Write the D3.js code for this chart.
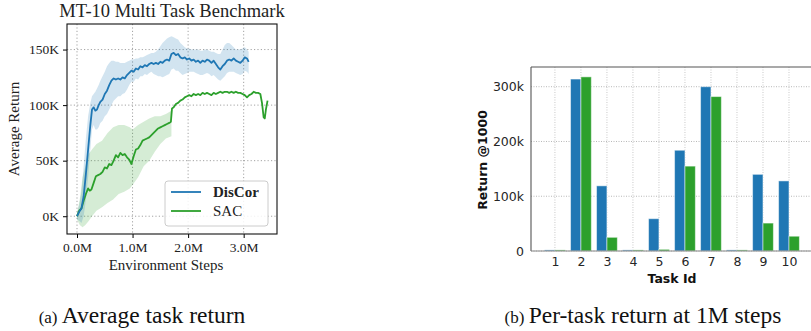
<!DOCTYPE html>
<html>
<head>
<meta charset="utf-8">
<script src="https://cdn.jsdelivr.net/npm/d3@7"></script>
<style>
  body { margin: 0; background: #fff; }
  svg { display: block; }
</style>
</head>
<body>
<svg id="fig" width="811" height="331"></svg>
<script>
// ---- (a) average return curves, values in K, steps in M ----
const discorSteps = [0.00, 0.04, 0.08, 0.12, 0.16, 0.20, 0.24, 0.27, 0.30, 0.33, 0.36, 0.39, 0.42, 0.46, 0.50, 0.54, 0.58, 0.62, 0.66, 0.70,
  0.74, 0.78, 0.82, 0.86, 0.90, 0.94, 0.98, 1.02, 1.06, 1.10, 1.14, 1.18, 1.22, 1.26, 1.30, 1.34, 1.38, 1.42, 1.46, 1.50,
  1.54, 1.58, 1.62, 1.66, 1.70, 1.74, 1.78, 1.82, 1.86, 1.90, 1.94, 1.98, 2.02, 2.06, 2.10, 2.14, 2.18, 2.22, 2.26, 2.30,
  2.34, 2.38, 2.42, 2.46, 2.50, 2.54, 2.58, 2.62, 2.66, 2.70, 2.74, 2.78, 2.82, 2.86, 2.90, 2.94, 2.98, 3.02, 3.06, 3.09];
const discorMean = [0, 4, 7, 18, 38, 60, 82, 96, 98, 95, 96, 100, 103, 105, 110, 113, 118, 122, 124, 123,
  124, 123, 125, 124, 127, 129, 131, 130, 133, 132, 135, 134, 136, 135, 137, 138, 137, 138, 137, 139,
  138, 140, 141, 140, 146, 147, 145, 146, 143, 142, 143, 141, 142, 140, 141, 139, 140, 138, 140, 139,
  141, 140, 138, 140, 137, 134, 132, 135, 137, 140, 141, 140, 142, 140, 139, 138, 140, 143, 142, 139];
const discorLow = [-3, -4, -6, 0, 15, 35, 60, 78, 82, 78, 78, 80, 84, 86, 90, 92, 96, 100, 104, 106,
  108, 108, 110, 111, 114, 118, 121, 121, 124, 123, 126, 126, 128, 127, 129, 130, 128, 127, 126, 126,
  125, 126, 127, 128, 132, 133, 131, 131, 129, 127, 128, 129, 130, 130, 130, 129, 128, 127, 127, 128,
  129, 128, 126, 127, 125, 123, 122, 124, 126, 129, 130, 130, 130, 129, 128, 127, 128, 131, 130, 128];
const discorHigh = [3, 10, 22, 45, 70, 90, 102, 108, 110, 112, 115, 118, 122, 126, 130, 135, 138, 140, 140, 139,
  139, 138, 138, 138, 139, 140, 141, 141, 142, 142, 143, 143, 144, 145, 146, 147, 147, 148, 150, 153,
  156, 158, 160, 161, 162, 161, 160, 159, 156, 154, 152, 151, 151, 150, 150, 150, 150, 149, 149, 150,
  150, 149, 148, 148, 147, 146, 146, 150, 154, 156, 156, 154, 152, 150, 150, 150, 151, 152, 150, 148];

const sacSteps = [0.00, 0.04, 0.08, 0.12, 0.16, 0.20, 0.23, 0.26, 0.30, 0.34, 0.38, 0.42, 0.46, 0.50, 0.54, 0.58, 0.62, 0.66, 0.70, 0.74,
  0.78, 0.82, 0.86, 0.90, 0.94, 0.98, 1.02, 1.06, 1.10, 1.14, 1.18, 1.22, 1.26, 1.30, 1.34, 1.38, 1.42, 1.46, 1.50, 1.54,
  1.58, 1.62, 1.66, 1.69, 1.71, 1.74, 1.78, 1.82, 1.86, 1.90, 1.94, 1.98, 2.02, 2.06, 2.10, 2.14, 2.18, 2.22, 2.26, 2.30,
  2.34, 2.38, 2.42, 2.46, 2.50, 2.54, 2.58, 2.62, 2.66, 2.70, 2.74, 2.78, 2.82, 2.86, 2.90, 2.94, 2.98, 3.02, 3.06, 3.10,
  3.14, 3.18, 3.22, 3.26, 3.30, 3.33, 3.36, 3.38, 3.40, 3.43];
const sacMean = [0, 5, 7, 14, 20, 25, 23, 24, 30, 36, 37, 38, 40, 44, 43, 47, 46, 50, 55, 53,
  57, 55, 56, 53, 51, 47, 54, 60, 61, 64, 68, 69, 70, 71, 73, 75, 77, 79, 80, 81,
  82, 83, 84, 85, 97, 98, 101, 102, 104, 105, 107, 108, 109, 108, 110, 109, 110, 109, 111, 110,
  111, 110, 109, 111, 110, 111, 112, 111, 112, 112, 111, 112, 111, 112, 111, 111, 110, 109, 107, 109,
  110, 112, 111, 111, 110, 102, 89, 88, 96, 104];
const sacBandSteps = [0.00, 0.05, 0.10, 0.15, 0.20, 0.27, 0.35, 0.45, 0.55, 0.65, 0.75, 0.85, 0.95, 1.00, 1.10, 1.20, 1.30, 1.40, 1.50, 1.60, 1.70];
const sacLow = [-3, -8, -10, -8, -5, 0, 5, 8, 12, 15, 20, 22, 25, 28, 35, 45, 50, 58, 65, 70, 72];
const sacHigh = [3, 15, 35, 45, 55, 60, 65, 68, 75, 80, 82, 82, 80, 78, 82, 85, 88, 90, 90, 92, 95];

const stepTicks = [0, 1, 2, 3];
const returnTicks = [0, 50, 100, 150];

// ---- (b) per-task return at 1M steps, values in k ----
const tasks = [1, 2, 3, 4, 5, 6, 7, 8, 9, 10];
const discorTask = [2, 314, 119, 2, 59, 184, 300, 2, 140, 128];
const sacTask = [2, 318, 25, 2, 3, 155, 282, 2, 51, 27];
const taskReturnTicks = [0, 100, 200, 300];

const blue = '#1f77b4', green = '#2ca02c';
const serif = '"Liberation Serif", "DejaVu Serif", serif';
const sans = '"DejaVu Sans", sans-serif';

const svg = d3.select('#fig');

// ===================== panel (a) =====================
const a = { left: 67, right: 277, top: 24, bottom: 234 };
const xA = d3.scaleLinear().domain([-0.18, 3.6]).range([a.left, a.right]);
const yA = d3.scaleLinear().domain([-16, 173]).range([a.bottom, a.top]);

const gA = svg.append('g');

// grid
gA.selectAll('.vgrid').data(stepTicks).join('line')
  .attr('x1', d => xA(d)).attr('x2', d => xA(d))
  .attr('y1', a.top).attr('y2', a.bottom)
  .attr('stroke', '#999').attr('stroke-width', 0.9).attr('stroke-dasharray', '1.2,2.2');
gA.selectAll('.hgrid').data(returnTicks).join('line')
  .attr('x1', a.left).attr('x2', a.right)
  .attr('y1', d => yA(d)).attr('y2', d => yA(d))
  .attr('stroke', '#999').attr('stroke-width', 0.9).attr('stroke-dasharray', '1.2,2.2');

svg.append('clipPath').attr('id', 'clipA').append('rect')
  .attr('x', a.left).attr('y', a.top).attr('width', a.right - a.left).attr('height', a.bottom - a.top);

const plotA = gA.append('g').attr('clip-path', 'url(#clipA)');

const discorBand = d3.area()
  .x((d, i) => xA(discorSteps[i]))
  .y0((d, i) => yA(discorLow[i]))
  .y1((d, i) => yA(discorHigh[i]));
const sacBand = d3.area()
  .x((d, i) => xA(sacBandSteps[i]))
  .y0((d, i) => yA(sacLow[i]))
  .y1((d, i) => yA(sacHigh[i]));

plotA.append('path').datum(sacBandSteps).attr('d', sacBand).attr('fill', green).attr('opacity', 0.2);
plotA.append('path').datum(discorSteps).attr('d', discorBand).attr('fill', blue).attr('opacity', 0.2);

const discorLine = d3.line().x((d, i) => xA(discorSteps[i])).y(d => yA(d));
const sacLine = d3.line().x((d, i) => xA(sacSteps[i])).y(d => yA(d));

plotA.append('path').datum(sacMean).attr('d', sacLine)
  .attr('fill', 'none').attr('stroke', green).attr('stroke-width', 1.8).attr('stroke-linejoin', 'round');
plotA.append('path').datum(discorMean).attr('d', discorLine)
  .attr('fill', 'none').attr('stroke', blue).attr('stroke-width', 1.8).attr('stroke-linejoin', 'round');

// axes
const axA = gA.append('g').attr('transform', `translate(0,${a.bottom})`)
  .call(d3.axisBottom(xA).tickValues(stepTicks).tickSize(4).tickSizeOuter(0).tickFormat(d => d3.format('.1f')(d) + 'M'));
const ayA = gA.append('g').attr('transform', `translate(${a.left},0)`)
  .call(d3.axisLeft(yA).tickValues(returnTicks).tickSize(4).tickSizeOuter(0).tickFormat(d => d + 'K'));
[axA, ayA].forEach(ax => {
  ax.select('.domain').remove();
  ax.selectAll('line').attr('stroke', '#000');
  ax.selectAll('text').attr('fill', '#222').style('font-family', serif).style('font-size', '13.5px');
});
axA.selectAll('text').attr('y', 8).attr('dy', '0.71em');
ayA.selectAll('text').attr('x', -8);

gA.append('rect').attr('x', a.left).attr('y', a.top)
  .attr('width', a.right - a.left).attr('height', a.bottom - a.top)
  .attr('fill', 'none').attr('stroke', '#111').attr('stroke-width', 1.1);

gA.append('text').attr('x', (a.left + a.right) / 2).attr('y', 17)
  .attr('text-anchor', 'middle').style('font-family', serif).style('font-size', '18.5px').attr('fill', '#222')
  .text('MT-10 Multi Task Benchmark');
gA.append('text').attr('x', (a.left + a.right) / 2 - 6).attr('y', 270)
  .attr('text-anchor', 'middle').style('font-family', serif).style('font-size', '15px').attr('fill', '#222')
  .text('Environment Steps');
gA.append('text').attr('transform', `translate(19,${(a.top + a.bottom) / 2}) rotate(-90)`)
  .attr('text-anchor', 'middle').style('font-family', serif).style('font-size', '15px').attr('fill', '#222')
  .text('Average Return');

// legend
const leg = gA.append('g');
leg.append('rect').attr('x', 165).attr('y', 181).attr('width', 103).attr('height', 45)
  .attr('rx', 3).attr('fill', '#fff').attr('fill-opacity', 0.85).attr('stroke', '#ccc');
[{ name: 'DisCor', color: blue, bold: true, y: 192 }, { name: 'SAC', color: green, bold: false, y: 211 }].forEach(it => {
  leg.append('line').attr('x1', 171).attr('x2', 201).attr('y1', it.y).attr('y2', it.y)
    .attr('stroke', it.color).attr('stroke-width', 1.8);
  leg.append('text').attr('x', 213).attr('y', it.y).attr('dy', '0.35em')
    .style('font-family', serif).style('font-size', '15px').style('font-weight', it.bold ? 'bold' : 'normal')
    .attr('fill', '#222').text(it.name);
});

// ===================== panel (b) =====================
const b = { left: 531, right: 815, top: 67, bottom: 251 };
const xB = d3.scaleLinear().domain([0.08, 11.0]).range([b.left, b.right]);
const yB = d3.scaleLinear().domain([0, 336]).range([b.bottom, b.top]);
const gB = svg.append('g');

gB.selectAll('.vgrid').data(tasks).join('line')
  .attr('x1', d => xB(d)).attr('x2', d => xB(d)).attr('y1', b.top).attr('y2', b.bottom)
  .attr('stroke', '#c8c8c8').attr('stroke-width', 1).attr('stroke-dasharray', '1,1.5');
gB.selectAll('.hgrid').data(taskReturnTicks).join('line')
  .attr('x1', b.left).attr('x2', b.right).attr('y1', d => yB(d)).attr('y2', d => yB(d))
  .attr('stroke', '#b8b8b8').attr('stroke-width', 1).attr('stroke-dasharray', '1,1.5');

const barW = xB(0.4) - xB(0);
gB.selectAll('.bd').data(tasks).join('rect')
  .attr('x', (d, i) => xB(d - 0.4)).attr('width', barW)
  .attr('y', (d, i) => yB(discorTask[i])).attr('height', (d, i) => yB(0) - yB(discorTask[i]))
  .attr('fill', blue).attr('stroke', '#fff').attr('stroke-opacity', 0.5).attr('stroke-width', 1);
gB.selectAll('.bs').data(tasks).join('rect')
  .attr('x', (d, i) => xB(d)).attr('width', barW)
  .attr('y', (d, i) => yB(sacTask[i])).attr('height', (d, i) => yB(0) - yB(sacTask[i]))
  .attr('fill', green).attr('stroke', '#fff').attr('stroke-opacity', 0.5).attr('stroke-width', 1);

const axB = gB.append('g').attr('transform', `translate(0,${b.bottom})`)
  .call(d3.axisBottom(xB).tickValues(tasks).tickSize(0).tickPadding(6).tickFormat(d3.format('d')));
const ayB = gB.append('g').attr('transform', `translate(${b.left},0)`)
  .call(d3.axisLeft(yB).tickValues(taskReturnTicks).tickSize(0).tickPadding(7).tickFormat(d => d === 0 ? '0' : d + 'k'));
[axB, ayB].forEach(ax => {
  ax.select('.domain').remove();
  ax.selectAll('text').attr('fill', '#262626').style('font-family', sans).style('font-size', '12.5px');
});

// spines: left, top, bottom
gB.append('line').attr('x1', b.left).attr('x2', b.left).attr('y1', b.top).attr('y2', b.bottom).attr('stroke', '#555').attr('stroke-width', 1.1);
gB.append('line').attr('x1', b.left).attr('x2', b.right).attr('y1', b.top).attr('y2', b.top).attr('stroke', '#555').attr('stroke-width', 1.1);
gB.append('line').attr('x1', b.left).attr('x2', b.right).attr('y1', b.bottom).attr('y2', b.bottom).attr('stroke', '#888').attr('stroke-width', 1.1);

gB.append('text').attr('x', 672).attr('y', 283).attr('text-anchor', 'middle')
  .style('font-family', sans).style('font-size', '12.5px').style('font-weight', 'bold').attr('fill', '#111')
  .text('Task Id');
gB.append('text').attr('transform', `translate(487,160) rotate(-90)`).attr('text-anchor', 'middle')
  .style('font-family', sans).style('font-size', '12.5px').style('font-weight', 'bold').attr('fill', '#111')
  .text('Return @1000');

// ===================== captions =====================
const captions = [
  { x: 142, tag: '(a)', text: 'Average task return' },
  { x: 643, tag: '(b)', text: 'Per-task return at 1M steps' }
];
captions.forEach(c => {
  const t = svg.append('text').attr('x', c.x).attr('y', 323).attr('text-anchor', 'middle')
    .style('font-family', serif).attr('fill', '#111');
  t.append('tspan').style('font-size', '17px').text(c.tag + ' ');
  t.append('tspan').style('font-size', '23.5px').text(c.text);
});
</script>
</body>
</html>
